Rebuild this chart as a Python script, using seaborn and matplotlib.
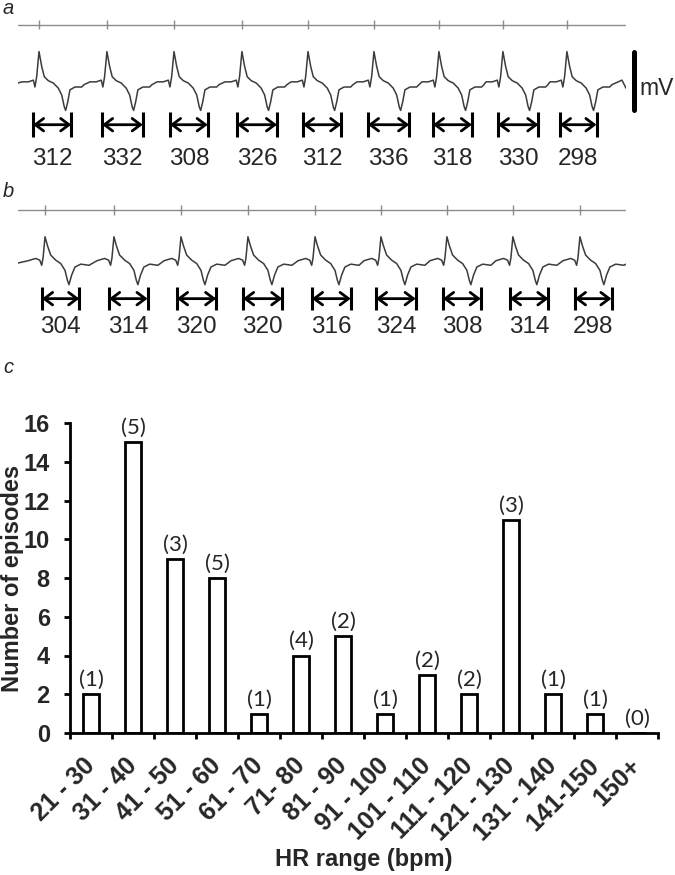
# %%
# ECG examples (a, b) and histogram of HR ranges (c)
import matplotlib
matplotlib.use('Agg')
import matplotlib.pyplot as plt
import seaborn as sns
import numpy as np
import pandas as pd

sns.set_style('white')
plt.rcParams['font.family'] = ['Liberation Sans', 'DejaVu Sans']

# %% data
# panel c
hr_ranges = ['21 - 30', '31 - 40', '41 - 50', '51 - 60', '61 - 70', '71- 80', '81 - 90',
             '91 - 100', '101 - 110', '111 - 120', '121 - 130', '131 - 140', '141-150', '150+']
episodes = [2, 15, 9, 8, 1, 4, 5, 1, 3, 2, 11, 2, 1, 0]
n_animals = [1, 5, 3, 5, 1, 4, 2, 1, 2, 2, 3, 1, 1, 0]

# panel a / b: measured intervals (ms), where each interval starts (ms), R peak times (ms)
a_intervals = [312, 332, 308, 326, 312, 336, 318, 330, 298]
a_starts = [122, 684, 1237, 1783, 2320, 2849, 3378, 3907, 4412]
a_beats = [171, 724, 1270, 1823, 2361, 2898, 3427, 3948, 4469]
b_intervals = [304, 314, 320, 320, 316, 324, 308, 314, 298]
b_starts = [195, 741, 1294, 1832, 2393, 2914, 3460, 4005, 4534]
b_beats = [220, 781, 1327, 1872, 2418, 2955, 3492, 4029, 4575]

# one beat (ms from R peak, mV)
a_shape_t = [-138, -87, -46, -33, -19, 0, 22, 43, 76, 116, 157, 185, 206, 217, 234, 252, 293, 348, 366]
a_shape_v = [0.02, 0.02, 0.05, -0.07, 0.11, 0.55, 0.29, 0.11, 0.04, 0.0, -0.09, -0.21, -0.42, -0.48,
             -0.33, -0.12, -0.07, -0.07, -0.03]
b_shape_t = [-138, -76, -43, -27, -16, 0, 19, 46, 87, 128, 163, 182, 195, 217, 244, 291, 358]
b_shape_v = [0.06, 0.10, 0.07, -0.02, 0.11, 0.48, 0.33, 0.16, 0.07, 0.01, -0.11, -0.28, -0.36,
             -0.19, -0.05, 0.0, -0.02]
a_ends = ([0], [0.0], [4917, 4950], [0.05, -0.09])
b_ends = ([0], [0.02], [4950], [0.0])


def trace(beats, shape_t, shape_v, ends):
    t = list(ends[0])
    v = list(ends[1])
    for b in beats:
        t += [b + s for s in shape_t]
        v += list(shape_v)
    return np.array(t + list(ends[2])), np.array(v + list(ends[3]))


def ecg_panel(ax, beats, starts, intervals, shape_t, shape_v, ends, line_y, arr_lo, arr_hi, num_y):
    t, v = trace(beats, shape_t, shape_v, ends)
    ax.plot(t, v, color='#3c3c3c', lw=1.1)
    # time line with beat marks
    ax.plot([0, 4950], [line_y, line_y], color='#8c8c8c', lw=1.0)
    ax.vlines(beats, line_y - 0.08, line_y + 0.08, color='#8c8c8c', lw=1.0)
    # interval arrows
    mid = (arr_lo + arr_hi) / 2
    for s, d in zip(starts, intervals):
        ax.vlines([s, s + d], arr_lo, arr_hi, color='black', lw=2.2)
        ax.annotate('', xy=(s, mid), xytext=(s + d, mid),
                    arrowprops=dict(arrowstyle='<->,head_length=0.6,head_width=0.45',
                                    lw=2, color='black', shrinkA=0, shrinkB=0))
        ax.text(s + d / 2, num_y, str(d), ha='center', va='baseline', fontsize=17.5)
    ax.set_xlim(0, 4950)
    ax.axis('off')


fig = plt.figure(figsize=(6.75, 8.75), dpi=100)

# %% panel a
ax_a = fig.add_axes([18 / 675, 1 - 175 / 875, 608 / 675, 160 / 875])
ax_a.set_ylim(-1.61, 1.19)
ecg_panel(ax_a, a_beats, a_starts, a_intervals, a_shape_t, a_shape_v, a_ends,
          1.02, -0.95, -0.51, -1.44)
# 1 mV scale bar
ax_a.plot([5018, 5018], [0.55, -0.47], color='black', lw=3.6, clip_on=False)
ax_a.text(5063, -0.09, 'mV', ha='left', va='center', fontsize=16.5)

# %% panel b
ax_b = fig.add_axes([18 / 675, 1 - 340 / 875, 608 / 675, 150 / 875])
ax_b.set_ylim(-1.33, 1.30)
ecg_panel(ax_b, b_beats, b_starts, b_intervals, b_shape_t, b_shape_v, b_ends,
          0.95, -0.81, -0.40, -1.21)

# %% panel c
df = pd.DataFrame({'range': hr_ranges, 'episodes': episodes})
ax_c = fig.add_axes([70 / 675, 1 - 733 / 875, 588 / 675, 310 / 875])
sns.barplot(data=df, x='range', y='episodes', color='white', edgecolor='black',
            linewidth=2, width=0.40, saturation=1, ax=ax_c)
ax_c.bar_label(ax_c.containers[0], labels=[f'({n})' for n in n_animals], padding=3,
               fontsize=16, family='Lato')
sns.despine(ax=ax_c)
for side in ['left', 'bottom']:
    ax_c.spines[side].set_linewidth(2)
    ax_c.spines[side].set_color('black')
ax_c.set_xlim(-0.5, 13.5)
ax_c.set_ylim(0, 16)
ax_c.set_yticks(range(0, 17, 2), labels=[str(v) for v in range(0, 17, 2)],
                fontsize=17, fontweight='bold')
ax_c.set_xticks(np.arange(-0.5, 14, 1), labels=[])
ax_c.set_xticks(range(len(hr_ranges)), labels=hr_ranges, minor=True, rotation=45,
                ha='right', va='center', rotation_mode='anchor', fontsize=18, fontweight='bold')
ax_c.tick_params(axis='x', which='major', direction='out', length=4.5, width=2, color='black', bottom=True)
ax_c.tick_params(axis='x', which='minor', length=0, pad=21)
ax_c.tick_params(axis='y', direction='out', length=4.5, width=2, color='black', left=True, pad=10)
ax_c.set_xlabel('HR range (bpm)', fontsize=17, fontweight='bold')
ax_c.set_ylabel('Number of episodes', fontsize=17, fontweight='bold')
ax_c.xaxis.set_label_coords(0.5, -0.37)
ax_c.yaxis.set_label_coords(-0.078, 0.5)

# panel letters
for letter, base in [('a', 14), ('b', 197), ('c', 373)]:
    fig.text(3 / 675, 1 - base / 875, letter, fontsize=14.5, style='italic', va='baseline')

fig.savefig('out.png', dpi=100)
